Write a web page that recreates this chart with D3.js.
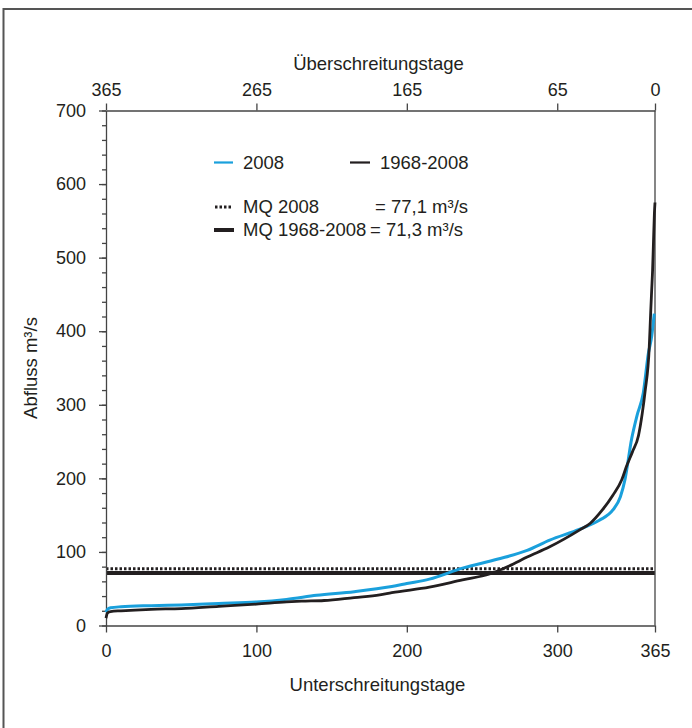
<!DOCTYPE html>
<html>
<head>
<meta charset="utf-8">
<script src="https://cdn.jsdelivr.net/npm/d3@7/dist/d3.min.js"></script>
<style>
  html, body { margin: 0; padding: 0; background: #fff; }
  svg { display: block; }
  text { font-family: "Liberation Sans", Arial, Helvetica, sans-serif; fill: #231f20; }
</style>
</head>
<body>
<script>
// ---------- data ----------
const days2008 = [0, 1, 3, 10, 30, 50, 75, 100, 120, 140, 165, 190, 200, 215, 237, 260, 280, 295, 315, 328, 337, 342, 345, 349.5, 353, 357.2, 360.6, 362.8, 364.5];
const flow2008 = [18, 22, 24, 25.5, 27, 28, 30, 32, 35.5, 41, 46, 53, 57, 63, 78, 90, 102, 116, 131, 143, 157, 175, 198, 254, 285, 316, 370, 393, 424];

const daysLong = [0, 1, 3, 10, 30, 50, 75, 100, 120, 130, 145, 165, 182, 190, 215, 237, 255, 268, 280, 295, 315, 322, 330, 337, 342.9, 346, 350, 354, 356.5, 358.4, 361.2, 362.1, 362.8, 363.4, 363.9, 364.6, 365];
const flowLong = [10, 17, 19, 20, 22, 23, 26, 29, 32, 33, 34, 38, 41.5, 44.6, 52, 62, 70, 81, 93, 107, 130, 139, 157, 177, 198, 216, 236, 258, 288, 318, 379, 424, 456, 483, 515, 560, 575];

const mq2008 = 77.1;
const mqLong = 71.3;

const bottomTicks = [0, 100, 200, 300, 365];
const topTicks = [365, 265, 165, 65, 0];
const yMajorTicks = [0, 100, 200, 300, 400, 500, 600, 700];
const yMinorTicks = d3.range(0, 701, 20);

const legendLabels = ["2008", "1968-2008", "MQ 2008", "MQ 1968-2008"];
const legendValues = ["= 77,1 m³/s", "= 71,3 m³/s"];

// ---------- layout ----------
const W = 692, H = 728;
const pL = 106, pR = 655, pT = 110.5, pB = 625.5;
const blue = "#1aa0dc", dark = "#231f20", axisCol = "#444";

const svg = d3.select("body").append("svg").attr("width", W).attr("height", H);

// frame
svg.append("rect").attr("x", 3.5).attr("y", 9).attr("width", 720).attr("height", 740)
  .attr("fill", "none").attr("stroke", "#555").attr("stroke-width", 2);

const x = d3.scaleLinear().domain([0, 365]).range([pL, pR]);
const xTop = d3.scaleLinear().domain([365, 0]).range([pL, pR]);
const y = d3.scaleLinear().domain([0, 700]).range([pB, pT]);

// MQ lines
svg.append("line").attr("x1", x(0)).attr("x2", x(365)).attr("y1", y(mqLong)).attr("y2", y(mqLong))
  .attr("stroke", dark).attr("stroke-width", 4);
svg.append("line").attr("x1", x(0)).attr("x2", x(365)).attr("y1", y(mq2008)).attr("y2", y(mq2008))
  .attr("stroke", dark).attr("stroke-width", 3).attr("stroke-dasharray", "2.5,2");

// axes
const fontSize = 18;
const gB = svg.append("g").attr("transform", `translate(0,${pB})`)
  .call(d3.axisBottom(x).tickValues(bottomTicks).tickSize(7).tickSizeOuter(0).tickPadding(12));
const gT = svg.append("g").attr("transform", `translate(0,${pT})`)
  .call(d3.axisTop(xTop).tickValues(topTicks).tickSize(7).tickSizeOuter(0).tickPadding(8));
const gYm = svg.append("g").attr("transform", `translate(${pL},0)`)
  .call(d3.axisLeft(y).tickValues(yMinorTicks).tickSize(4).tickFormat(""));
const gY = svg.append("g").attr("transform", `translate(${pL},0)`)
  .call(d3.axisLeft(y).tickValues(yMajorTicks).tickSize(7).tickSizeOuter(0).tickPadding(13));
[gB, gT, gY, gYm].forEach(g => {
  g.selectAll("path").attr("stroke", axisCol).attr("stroke-width", 1.3);
  g.selectAll("line").attr("stroke", axisCol).attr("stroke-width", 1.3);
  g.selectAll("text").attr("font-size", fontSize).attr("fill", dark)
    .style("font-family", '"Liberation Sans", Arial, sans-serif');
});
gYm.select(".domain").remove();
// right border line
svg.append("line").attr("x1", pR).attr("x2", pR).attr("y1", pT).attr("y2", pB)
  .attr("stroke", axisCol).attr("stroke-width", 1.3);

// axis titles
svg.append("text").attr("x", (pL + pR) / 2 - 2).attr("y", 70).attr("text-anchor", "middle")
  .attr("font-size", 18.5).text("Überschreitungstage");
svg.append("text").attr("x", (pL + pR) / 2 - 3).attr("y", 691).attr("text-anchor", "middle")
  .attr("font-size", 18.5).text("Unterschreitungstage");
svg.append("text").attr("transform", `translate(36.5,${(pT + pB) / 2}) rotate(-90)`)
  .attr("text-anchor", "middle").attr("font-size", 18.5).text("Abfluss m³/s");

// curves
const line = d3.line().x(d => x(d[0])).y(d => y(d[1])).curve(d3.curveMonotoneX);
svg.append("path").datum(d3.zip(days2008, flow2008)).attr("d", line)
  .attr("fill", "none").attr("stroke", blue).attr("stroke-width", 3);
svg.append("path").datum(d3.zip(daysLong, flowLong)).attr("d", line)
  .attr("fill", "none").attr("stroke", dark).attr("stroke-width", 2.8);

// legend
const lfs = 18.5;
const lg = svg.append("g");
lg.append("line").attr("x1", 214).attr("x2", 233).attr("y1", 162.5).attr("y2", 162.5).attr("stroke", blue).attr("stroke-width", 2.2);
lg.append("text").attr("x", 243).attr("y", 168.5).attr("font-size", lfs).text(legendLabels[0]);
lg.append("line").attr("x1", 350).attr("x2", 370).attr("y1", 162.5).attr("y2", 162.5).attr("stroke", dark).attr("stroke-width", 2.2);
lg.append("text").attr("x", 380).attr("y", 168.5).attr("font-size", lfs).text(legendLabels[1]);
lg.append("line").attr("x1", 215).attr("x2", 233).attr("y1", 207).attr("y2", 207).attr("stroke", dark).attr("stroke-width", 3).attr("stroke-dasharray", "2.5,2");
lg.append("text").attr("x", 243).attr("y", 212.5).attr("font-size", lfs).text(legendLabels[2]);
lg.append("text").attr("x", 375).attr("y", 212.5).attr("font-size", lfs).text(legendValues[0]);
lg.append("line").attr("x1", 214).attr("x2", 234).attr("y1", 230).attr("y2", 230).attr("stroke", dark).attr("stroke-width", 4);
lg.append("text").attr("x", 243).attr("y", 235.5).attr("font-size", lfs).text(legendLabels[3]);
lg.append("text").attr("x", 370).attr("y", 235.5).attr("font-size", lfs).text(legendValues[1]);
</script>
</body>
</html>
